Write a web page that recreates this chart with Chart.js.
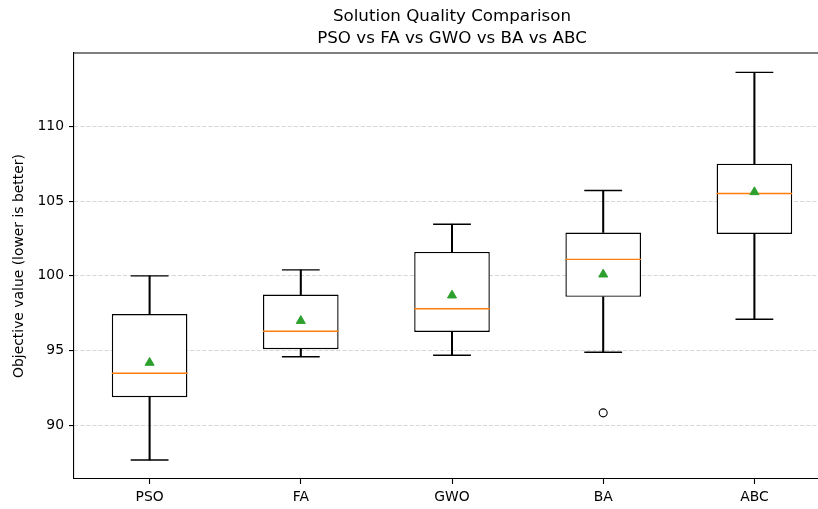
<!DOCTYPE html>
<html>
<head>
<meta charset="utf-8">
<title>Solution Quality Comparison</title>
<script src="https://cdn.jsdelivr.net/npm/chart.js@4/dist/chart.umd.min.js"></script>
<style>
  html, body { margin: 0; padding: 0; background: #fff; overflow: hidden; }
  #wrap { width: 818px; height: 509px; overflow: hidden; }
  #wrap canvas { display: block; }
</style>
</head>
<body>
<div id="wrap"><canvas id="boxChart" width="904" height="509"></canvas></div>
<script>
// Box plot statistics
var categories = ['PSO', 'FA', 'GWO', 'BA', 'ABC'];
var whiskerLow = [87.7, 94.6, 94.7, 94.9, 97.1];
var q1 = [91.9, 95.1, 96.25, 98.6, 102.8];
var medians = [93.5, 96.3, 97.8, 101.1, 105.5];
var q3 = [97.45, 98.75, 101.6, 102.9, 107.5];
var whiskerHigh = [100.0, 100.4, 103.45, 105.7, 113.6];
var means = [94.2, 97.0, 98.7, 100.1, 105.6];
var outliers = [null, null, null, 90.85, null];
var yTicks = [90, 95, 100, 105, 110];

(function () {
  'use strict';

  var FONT = "'DejaVu Sans', sans-serif";
  var LW = 1.4;

  function pairs(a, b) {
    return a.map(function (v, i) { return [v, b[i]]; });
  }

  // top spine (matplotlib draws a full frame)
  var framePlugin = {
    id: 'frame',
    afterDatasetsDraw: function (chart) {
      var a = chart.chartArea, ctx = chart.ctx;
      ctx.save();
      ctx.strokeStyle = '#000';
      ctx.lineWidth = 1.1;
      ctx.beginPath();
      ctx.moveTo(a.left, a.top);
      ctx.lineTo(a.right, a.top);
      ctx.stroke();
      ctx.restore();
    }
  };

  new Chart(document.getElementById('boxChart'), {
    type: 'bar',
    data: {
      labels: categories,
      datasets: [
        {
          type: 'line', label: 'mean', data: means, showLine: false, clip: false,
          pointStyle: 'triangle', pointRadius: 5.2, borderWidth: 1,
          backgroundColor: '#2ca02c', borderColor: '#2ca02c'
        },
        {
          type: 'line', label: 'median', data: medians, showLine: false, clip: false,
          pointStyle: 'line', pointRadius: 37.8, borderWidth: LW,
          borderColor: '#ff7f0e'
        },
        {
          type: 'line', label: 'outliers', data: outliers, showLine: false, clip: false,
          pointStyle: 'circle', pointRadius: 4, borderWidth: 1.1,
          borderColor: '#000', backgroundColor: 'rgba(0,0,0,0)'
        },
        {
          type: 'line', label: 'capHigh', data: whiskerHigh, showLine: false, clip: false,
          pointStyle: 'line', pointRadius: 18.9, borderWidth: LW, borderColor: '#000'
        },
        {
          type: 'line', label: 'capLow', data: whiskerLow, showLine: false, clip: false,
          pointStyle: 'line', pointRadius: 18.9, borderWidth: LW, borderColor: '#000'
        },
        {
          label: 'box', data: pairs(q1, q3), grouped: false,
          barPercentage: 0.5, categoryPercentage: 1,
          backgroundColor: '#fff', borderColor: '#000',
          borderWidth: LW, borderSkipped: false
        },
        {
          label: 'whiskerHigh', data: pairs(q3, whiskerHigh), grouped: false,
          barThickness: LW, backgroundColor: '#000', borderWidth: 0
        },
        {
          label: 'whiskerLow', data: pairs(whiskerLow, q1), grouped: false,
          barThickness: LW, backgroundColor: '#000', borderWidth: 0
        }
      ]
    },
    options: {
      responsive: false,
      animation: false,
      events: [],
      layout: { autoPadding: false, padding: 0 },
      plugins: {
        legend: { display: false },
        tooltip: { enabled: false },
        title: {
          display: true,
          text: ['Solution Quality Comparison', 'PSO vs FA vs GWO vs BA vs ABC'],
          color: '#000',
          font: { family: FONT, size: 16.7, weight: 'normal', lineHeight: 1.3 },
          padding: { top: 6, bottom: 3.6 }
        }
      },
      scales: {
        x: {
          type: 'category',
          offset: true,
          grid: {
            offset: false, drawOnChartArea: false, drawTicks: true,
            tickLength: 5, tickColor: '#000', tickWidth: 1.1
          },
          border: { display: true, color: '#000', width: 1.1 },
          ticks: { color: '#000', padding: 5, font: { family: FONT, size: 13.9 } },
          afterFit: function (s) { s.height = 30; }
        },
        y: {
          type: 'linear',
          min: 86.43,
          max: 114.89,
          afterBuildTicks: function (s) {
            s.ticks = yTicks.map(function (v) { return { value: v }; });
          },
          ticks: {
            color: '#000', padding: 5,
            font: { family: FONT, size: 13.9 }
          },
          grid: {
            color: 'rgba(176,176,176,0.5)', lineWidth: 1.1,
            tickLength: 5, tickColor: '#000', tickWidth: 1.1
          },
          border: { display: true, color: '#000', width: 1.1, dash: [4.2, 1.9] },
          title: {
            display: true,
            text: 'Objective value (lower is better)',
            color: '#000',
            font: { family: FONT, size: 13.9 },
            padding: { top: 11, bottom: 0 }
          },
          afterFit: function (s) { s.width = 74; }
        },
        // right spine; sits just past the cropped edge like the reference
        yRight: {
          type: 'linear',
          position: 'right',
          min: 86.43,
          max: 114.89,
          grid: { display: false },
          ticks: { display: false },
          border: { display: true, color: '#000', width: 1.1 },
          afterFit: function (s) { s.width = 74; }
        }
      }
    },
    plugins: [framePlugin]
  });
})();
</script>
</body>
</html>
